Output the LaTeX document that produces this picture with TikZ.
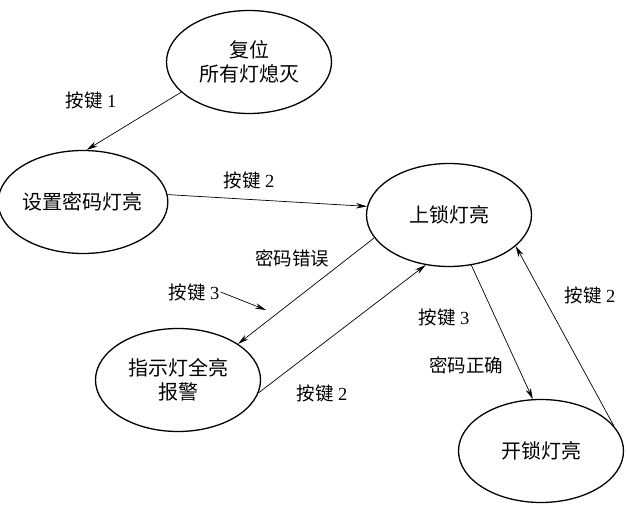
\documentclass[tikz,border=0pt]{standalone}
\usepackage{fontspec}
\setmainfont{Liberation Serif}
\newfontfamily\cjk{Noto Sans CJK SC}
\usetikzlibrary{shapes.geometric,arrows.meta}
\begin{document}
\begin{tikzpicture}[x=1pt,y=-1pt,
  state/.style={ellipse,draw,line width=1.3pt,minimum width=165pt,minimum height=103pt,
    inner sep=0pt,align=center,font=\cjk\fontsize{20}{24}\selectfont},
  lbl/.style={inner sep=1pt,font=\fontsize{18.5}{20}\selectfont},
  conn/.style={-{Stealth[length=11pt,width=5.5pt]},line width=0.7pt}]
\useasboundingbox (0,0) rectangle (627,510);
\node[state] (e1) at (249,62) {复位\\所有灯熄灭};
\node[state] (e2) at (83,202) {设置密码灯亮};
\node[state] (e3) at (449,215) {上锁灯亮};
\node[state] (e4) at (178,380) {指示灯全亮\\报警};
\node[state] (e5) at (541,451) {开锁灯亮};

\draw[conn] (e1.204) -- (e2.86);
\draw[conn] (e2.5) -- (e3.174.5);
\draw[conn] (e3.197.7) -- (e4.31.5);
\draw[conn] (e4.-9.5) -- (e3.-115);
\draw[conn] (e3.-66.5) -- (e5.99.5);
\draw[conn] (e5.19.5) -- (e3.-25);

\node[lbl] (l1) at (91,100) {{\cjk 按键} 1};
\node[lbl] (l2) at (249,180) {{\cjk 按键} 2};
\node[lbl] (l3) at (292,258) {\cjk 密码错误};
\node[lbl] (l4) at (194,292) {{\cjk 按键} 3};
\coordinate (p4) at (266,310);
\draw[conn] (l4.east) -- (p4);
\node[lbl] (l5) at (322,393) {{\cjk 按键} 2};
\node[lbl] (l6) at (444,317) {{\cjk 按键} 3};
\node[lbl] (l7) at (466,365) {\cjk 密码正确};
\node[lbl] (l8) at (590,295) {{\cjk 按键} 2};
\end{tikzpicture}
\end{document}
